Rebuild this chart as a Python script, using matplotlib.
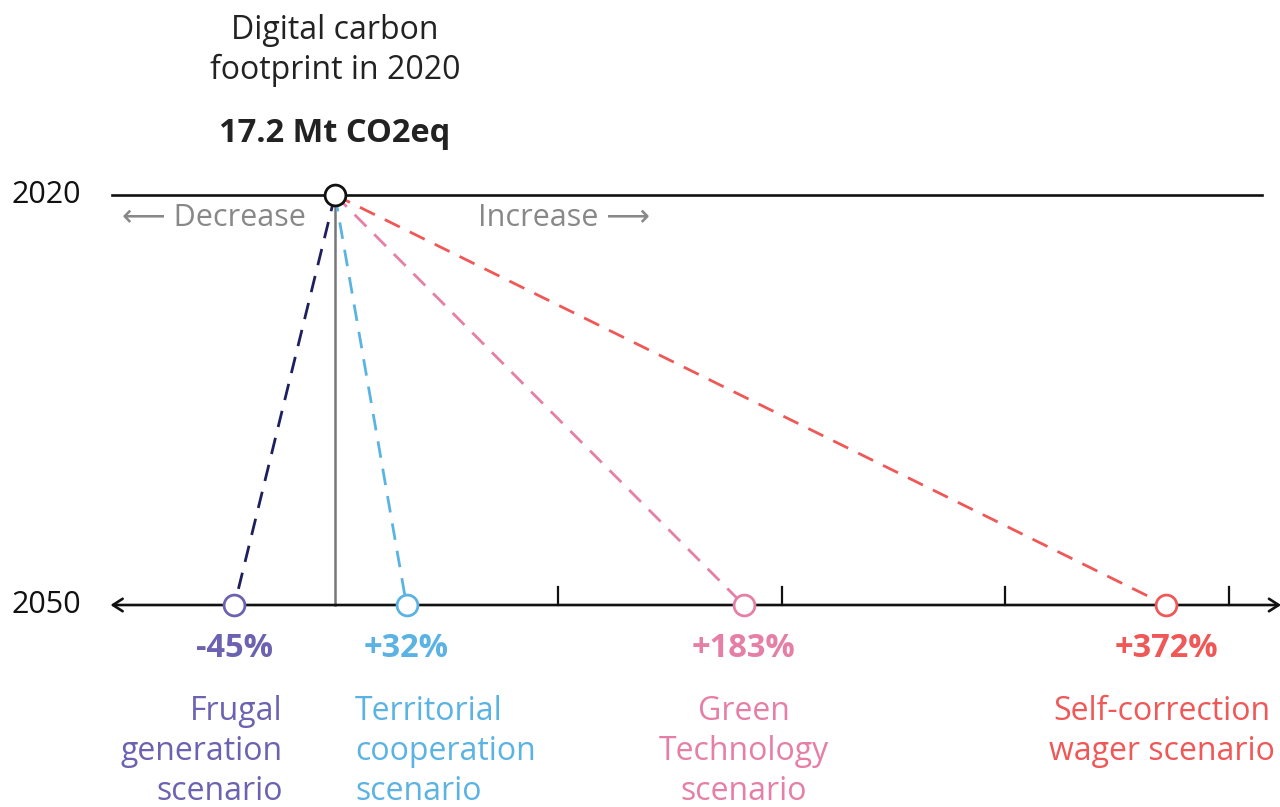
import matplotlib.pyplot as plt

plt.rcParams['font.family'] = ['Open Sans', 'DejaVu Sans']

# data
base_value = '17.2 Mt CO2eq'
years = [2020, 2050]
scenarios = ['Frugal\ngeneration\nscenario', 'Territorial\ncooperation\nscenario',
             'Green\nTechnology\nscenario', 'Self-correction\nwager scenario']
changes = [-45, 32, 183, 372]
label_colors = ['#6b63b1', '#5bb3e3', '#e67fa6', '#f05757']
line_colors = ['#1e1f5e', '#5bb3e3', '#e67fa6', '#f05757']
tick_vals = [100, 200, 300, 400]

fig = plt.figure(figsize=(12.8, 8.07), dpi=100)
ax = fig.add_axes([0, 0, 1, 1])
ax.set_xlim(-149.96, 423.0)
ax.set_ylim(2064.78, 2005.73)
ax.axis('off')

y0, y1 = years
pxx = 1 / 2.234      # percent per pixel
pxy = 30 / 410.0     # years per pixel

# top 2020 line
ax.plot([-100, 415], [y0, y0], color='#111111', lw=1.9, zorder=2)
# vertical reference
ax.plot([0, 0], [y0, y1], color='#777777', lw=1.8, zorder=1)
# bottom axis with arrows
ax.annotate('', xy=(-100.5, y1), xytext=(423.5, y1),
            arrowprops=dict(arrowstyle='<->,head_length=0.7,head_width=0.45',
                            color='#111111', lw=1.9, shrinkA=0, shrinkB=0))
for t in tick_vals:
    ax.plot([t, t], [y1, y1 - 18 * pxy], color='#111111', lw=1.6)

# dashed scenario lines
for c, lc in zip(changes, line_colors):
    ax.plot([0, c], [y0, y1], color=lc, lw=2.0, ls=(0, (6, 4)), zorder=1)

# circles
ax.plot([0], [y0], 'o', ms=15, mfc='white', mec='#111111', mew=2, zorder=5)
for c, col in zip(changes, label_colors):
    ax.plot([c], [y1], 'o', ms=15, mfc='white', mec=col, mew=2, zorder=5)

# year labels
for yr in years:
    ax.text(11 * pxx - 149.96, yr, str(yr), fontsize=22, color='#111111',
            ha='left', va='center')

# title
ax.text(0, 2020 - 165 * pxy, 'Digital carbon', fontsize=23, color='#222222',
        ha='center', va='center')
ax.text(0, 2020 - 125 * pxy, 'footprint in 2020', fontsize=23, color='#222222',
        ha='center', va='center')
ax.text(0, 2020 - 62 * pxy, base_value, fontsize=23.5, fontweight='bold',
        color='#222222', ha='center', va='center')

# direction hints
ax.text(-13, 2020 + 23 * pxy, '\u27f5 Decrease', fontsize=22, color='#888888',
        ha='right', va='center')
ax.text(64, 2020 + 23 * pxy, 'Increase \u27f6', fontsize=22, color='#888888',
        ha='left', va='center')

# percent labels and scenario names
name_pos = [(-23.3, 'right'), (9, 'left'), (183, 'center'), (370, 'center')]
for c, name, col, (nx, ha) in zip(changes, scenarios, label_colors, name_pos):
    lbl = f'{c:+d}%'
    ax.text(c, 2050 + 43 * pxy, lbl, fontsize=23.5, fontweight='bold', color=col,
            ha='center', va='center')
    ax.text(nx, 2050 + 90 * pxy, name, fontsize=23, color=col, ha=ha,
            va='top', multialignment=ha, linespacing=1.27)

fig.savefig('out.png', dpi=100)
